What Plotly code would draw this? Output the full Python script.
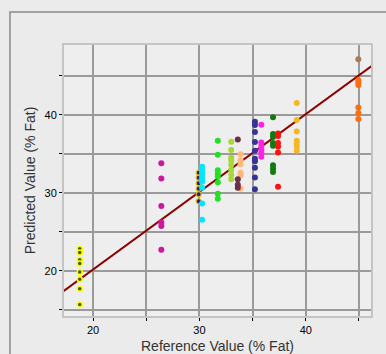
import plotly.graph_objects as go

# ---- data ----
g1_x = [18.75] * 8
g1_y = [22.85, 22.37, 21.44, 20.96, 19.85, 18.95, 17.72, 15.70]
g2_x = [26.42] * 6
g2_y = [33.80, 31.84, 28.32, 26.19, 25.75, 22.72]
g3_x = [29.93] * 6
g3_y = [32.58, 31.94, 31.23, 30.53, 29.82, 28.92]
g4_x = [30.25] * 9
g4_y = [33.35, 32.97, 32.58, 32.20, 31.81, 31.42, 30.65, 28.63, 26.55]
g5_x = [31.73] * 8
g5_y = [36.66, 34.87, 32.90, 32.45, 32.13, 31.36, 29.88, 29.24]
g6_x = [32.99] * 8
g6_y = [36.53, 35.47, 34.51, 34.18, 33.61, 32.97, 32.32, 31.75]
g7_x = [33.87] * 6
g7_y = [34.95, 34.18, 33.67, 32.58, 32.26, 30.55]
g8_x = [33.61] * 4
g8_y = [36.82, 31.75, 31.04, 30.65]
g9_x = [35.22] * 10
g9_y = [39.10, 38.68, 37.78, 36.50, 35.40, 34.38, 34.06, 33.22, 31.96, 30.46]
g10_x = [35.82] * 6
g10_y = [38.72, 36.46, 36.02, 35.51, 35.15, 34.61]
g11_x = [36.92] * 8
g11_y = [39.67, 37.52, 37.14, 36.37, 36.02, 33.54, 33.12, 32.68]
g12_x = [37.39] * 6
g12_y = [37.59, 37.27, 36.37, 35.92, 35.15, 30.78]
g13_x = [39.15] * 7
g13_y = [41.50, 39.32, 37.87, 36.66, 36.30, 35.92, 35.38]
g14_x = [44.94] * 6
g14_y = [44.42, 44.13, 43.81, 40.92, 40.22, 39.45]
g15_x = [44.94]
g15_y = [47.11]

fit_x = [17.0, 47.0]
fit_y = [17.2, 47.05]

x_ticks = [20, 25, 30, 35, 40, 45]
x_tick_text = ["20", "", "30", "", "40", ""]
y_ticks = [15, 20, 25, 30, 35, 40, 45]
y_tick_text = ["", "20", "", "30", "", "40", ""]

groups = [
    (g1_x, g1_y, "#3d5a10", "#ffff00", 1.5),
    (g2_x, g2_y, "#d0159f", None, 0),
    (g3_x, g3_y, "#22237e", "#e0b820", 1.2),
    (g4_x, g4_y, "#00e6ff", None, 0),
    (g5_x, g5_y, "#22e022", None, 0),
    (g6_x, g6_y, "#a8d838", None, 0),
    (g7_x, g7_y, "#ffb877", None, 0),
    (g8_x, g8_y, "#6b2f48", None, 0),
    (g9_x, g9_y, "#353597", None, 0),
    (g10_x, g10_y, "#ff22e6", None, 0),
    (g11_x, g11_y, "#127a12", None, 0),
    (g12_x, g12_y, "#ff1111", None, 0),
    (g13_x, g13_y, "#f4b823", None, 0),
    (g14_x, g14_y, "#ff6d0e", None, 0),
    (g15_x, g15_y, "#a87a58", None, 0),
]

fig = go.Figure()

fig.add_trace(go.Scatter(x=fit_x, y=fit_y, mode="lines",
                         line=dict(color="#8b0000", width=2),
                         hoverinfo="skip", showlegend=False))

for gx, gy, fill, ring, lw in groups:
    marker = dict(color=fill, size=6 if ring is None else 5, symbol="circle",
                  line=dict(width=lw, color=ring if ring else fill))
    fig.add_trace(go.Scatter(x=gx, y=gy, mode="markers", marker=marker,
                             showlegend=False))

fig.add_shape(type="rect", xref="paper", yref="paper",
              x0=-0.176, y0=-0.3, x1=1.3, y1=1.122,
              line=dict(color="#8a8a8a", width=1.5), fillcolor="rgba(0,0,0,0)",
              layer="below")

axis_common = dict(showgrid=True, gridcolor="#9a9a9a", gridwidth=2,
                   zeroline=False, showline=True, linecolor="#c4c4c4",
                   linewidth=2, mirror=True, ticks="outside", ticklen=3,
                   tickcolor="#000000", tickwidth=1, automargin=False,
                   tickfont=dict(family="Liberation Sans", size=11, color="#000000"))

fig.update_layout(
    width=386, height=354,
    margin=dict(l=64, r=15, t=45, b=38, autoexpand=False),
    paper_bgcolor="#ebebeb", plot_bgcolor="#eeeeee",
    xaxis=dict(range=[17.27, 46.13], tickvals=x_ticks, ticktext=x_tick_text,
               title=dict(text="Reference Value (% Fat)", standoff=8,
                          font=dict(family="Liberation Sans", size=14, color="#333333")),
               **axis_common),
    yaxis=dict(range=[14.23, 48.93], tickvals=y_ticks, ticktext=y_tick_text,
               title=dict(text="Predicted Value (% Fat)", standoff=6,
                          font=dict(family="Liberation Sans", size=14, color="#333333")),
               **axis_common),
)

fig.write_html("out.html", config={"displayModeBar": False},
               post_script="document.body.style.margin='0';document.body.style.padding='0';")
